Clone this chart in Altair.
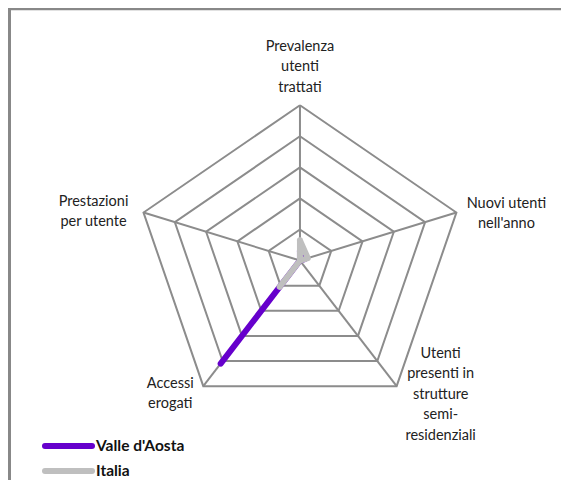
import math
import altair as alt
import pandas as pd

# ---- data ----
title = "Attività territoriale"
axes = ["Prevalenza utenti trattati", "Nuovi utenti nell'anno",
        "Utenti presenti in strutture semi-residenziali", "Accessi erogati",
        "Prestazioni per utente"]
axis_labels = ["Prevalenza\nutenti\ntrattati", "Nuovi utenti\nnell'anno",
               "Utenti\npresenti in\nstrutture\nsemi-\nresidenziali",
               "Accessi\nerogati", "Prestazioni\nper utente"]
series = ["Valle d'Aosta", "Italia"]
valle = [0.06, 0.03, 0.0, 0.82, 0.0]
italia = [0.13, 0.05, 0.0, 0.21, 0.0]
ring_levels = [0.2, 0.4, 0.6, 0.8, 1.0]
colors = ["#6600CC", "#BFBFBF"]

# ---- layout ----
W, H = 553, 472
FONT = "Lato"
GRID = "#8C8C8C"
label_offsets = [(0, -58.5), (50, -9), (44, -32.5), (-33, -2.5), (-50, -11)]

n = len(axes)
angles = [math.pi / 2 - 2 * math.pi * i / n for i in range(n)]

xs = alt.Scale(domain=[-1.775, 1.587], nice=False, zero=False)
ys = alt.Scale(domain=[-1.413, 1.626], nice=False, zero=False)

# grid rings
ring_rows = []
for lvl in ring_levels:
    for k in range(n + 1):
        a = angles[k % n]
        ring_rows.append({"ring": lvl, "k": k, "x": lvl * math.cos(a), "y": lvl * math.sin(a)})
rings = pd.DataFrame(ring_rows)

spokes = pd.DataFrame({
    "axis": axes,
    "x0": [0.0] * n, "y0": [0.0] * n,
    "x": [math.cos(a) for a in angles],
    "y": [math.sin(a) for a in angles],
})

def series_df(name, vals):
    rows = []
    for k in range(n + 1):
        i = k % n
        rows.append({"serie": name, "k": k, "axis": axes[i],
                     "x": vals[i] * math.cos(angles[i]), "y": vals[i] * math.sin(angles[i])})
    return pd.DataFrame(rows)

color_scale = alt.Scale(domain=series, range=colors)

ring_layer = alt.Chart(rings).mark_line(color=GRID, strokeWidth=2, clip=False).encode(
    x=alt.X("x:Q", scale=xs, axis=None),
    y=alt.Y("y:Q", scale=ys, axis=None),
    detail="ring:N",
    order="k:Q",
)

spoke_layer = alt.Chart(spokes).mark_rule(color=GRID, strokeWidth=2).encode(
    x=alt.X("x0:Q", scale=xs, axis=None),
    y=alt.Y("y0:Q", scale=ys, axis=None),
    x2="x:Q", y2="y:Q",
)

series_layers = []
for name, vals in zip(series, [valle, italia]):
    series_layers.append(
        alt.Chart(series_df(name, vals)).mark_line(
            strokeWidth=6, strokeCap="round", strokeJoin="round"
        ).encode(
            x=alt.X("x:Q", scale=xs, axis=None),
            y=alt.Y("y:Q", scale=ys, axis=None),
            color=alt.Color("serie:N", scale=color_scale, legend=None),
            order="k:Q",
        )
    )

label_layers = []
for i in range(n):
    a = angles[i]
    df = pd.DataFrame({"t": [axis_labels[i]], "x": [math.cos(a)], "y": [math.sin(a)]})
    dx, dy = label_offsets[i]
    label_layers.append(
        alt.Chart(df).mark_text(
            font=FONT, fontSize=14.5, color="#222222", align="center",
            baseline="middle", lineBreak="\n", lineHeight=20.5, dx=dx, dy=dy
        ).encode(
            x=alt.X("x:Q", scale=xs, axis=None),
            y=alt.Y("y:Q", scale=ys, axis=None),
            text="t:N",
        )
    )

# manual legend
leg_layers = []
for i, name in enumerate(series):
    ly = 438 + 25 * i
    ldf = pd.DataFrame({"serie": [name]})
    leg_layers.append(
        alt.Chart(ldf).mark_rule(strokeWidth=6, strokeCap="round").encode(
            x=alt.value(37), x2=alt.value(84), y=alt.value(ly),
            color=alt.Color("serie:N", scale=color_scale, legend=None),
        )
    )
    leg_layers.append(
        alt.Chart(ldf).mark_text(
            font=FONT, fontSize=15.5, fontWeight="bold", color="#111111",
            align="left", baseline="middle"
        ).encode(x=alt.value(88), y=alt.value(ly), text="serie:N")
    )

tdf = pd.DataFrame({"t": [title]})
title_layer = alt.Chart(tdf).mark_text(
    font="Liberation Serif", fontSize=19, fontWeight="bold", color="#000000",
    align="center", baseline="alphabetic"
).encode(x=alt.value(282), y=alt.value(1), text="t:N")

border_top = alt.Chart(tdf).mark_rule(color="#888888", strokeWidth=2.5).encode(
    x=alt.value(0), x2=alt.value(W), y=alt.value(1)
)
border_left = alt.Chart(tdf).mark_rule(color="#888888", strokeWidth=3).encode(
    x=alt.value(1.5), y=alt.value(0), y2=alt.value(H)
)

chart = alt.layer(
    ring_layer, spoke_layer, *series_layers, *label_layers, *leg_layers,
    title_layer, border_top, border_left
).properties(
    width=W, height=H, padding=0, autosize=alt.AutoSizeParams(type="none")
).configure_view(stroke=None)

chart.save("out.html", embed_options={"renderer": "svg", "actions": False})
